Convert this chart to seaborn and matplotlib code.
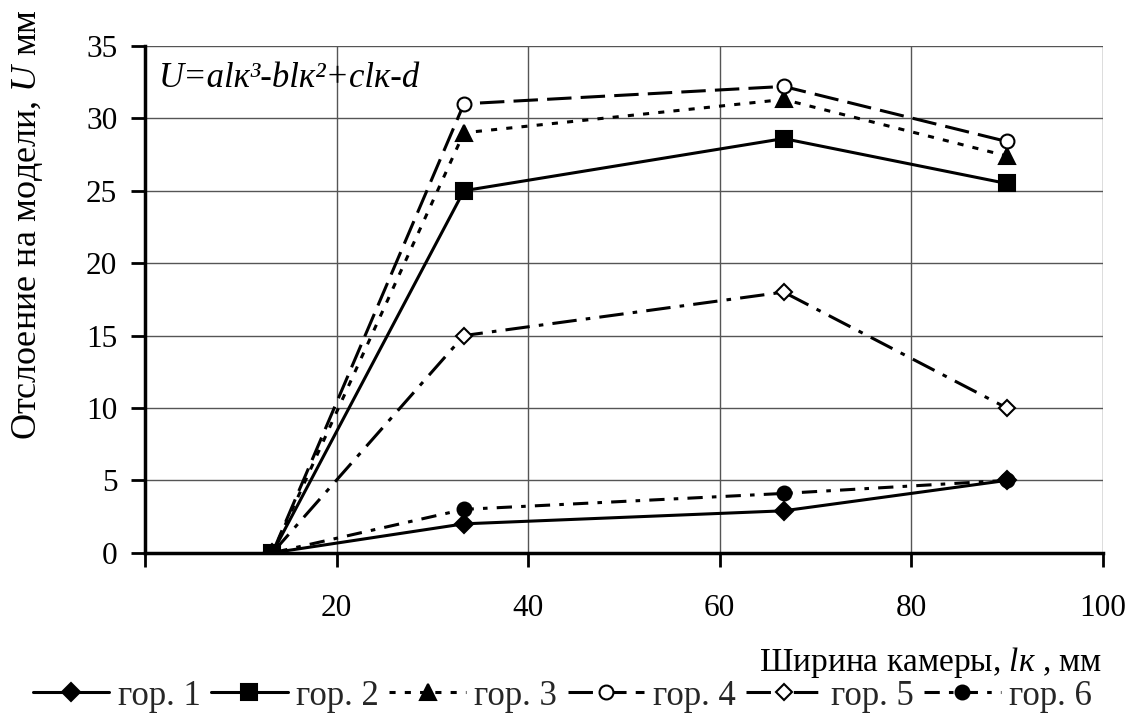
import numpy as np
import pandas as pd
import matplotlib
matplotlib.use("Agg")
import matplotlib.pyplot as plt
import seaborn as sns

# Data
widths = [13.3, 33.3, 66.7, 90]
series_names = ["гор. 1", "гор. 2", "гор. 3", "гор. 4", "гор. 5", "гор. 6"]
gor1 = [0, 2.0, 2.9, 5.0]
gor2 = [0, 25.0, 28.6, 25.5]
gor3 = [0, 29.0, 31.3, 27.4]
gor4 = [0, 31.0, 32.2, 28.4]
gor5 = [0, 15.0, 18.0, 10.0]
gor6 = [0, 3.0, 4.1, 5.0]
x_ticks = [20, 40, 60, 80, 100]
y_ticks = [0, 5, 10, 15, 20, 25, 30, 35]

sns.set_theme(style="white")
plt.rcParams['font.family'] = ['Liberation Serif', 'DejaVu Serif']
plt.rcParams['mathtext.fontset'] = 'custom'
plt.rcParams['mathtext.it'] = 'Liberation Serif:italic'
plt.rcParams['mathtext.rm'] = 'Liberation Serif'

fig = plt.figure(figsize=(11.25, 7.17), dpi=100)
ax = fig.add_axes([0.129, 0.229, 0.851, 0.707])

styles = [
    dict(marker='D', mfc='black', ms=9, dashes=None, lw=2.2),
    dict(marker='s', mfc='black', ms=11, dashes=None, lw=2.2),
    dict(marker='^', mfc='black', ms=11, dashes=[2, 3], lw=2.2),
    dict(marker='o', mfc='white', ms=10, dashes=[8, 3], lw=2.2),
    dict(marker='D', mfc='white', ms=8, dashes=[8, 3, 1.5, 3], lw=2.2),
    dict(marker='o', mfc='black', ms=10, dashes=[5, 3, 1.5, 3], lw=2.2),
]
data = [gor1, gor2, gor3, gor4, gor5, gor6]
handles = []
for name, vals, st in zip(series_names, data, styles):
    df = pd.DataFrame({"x": widths, "y": vals})
    sns.lineplot(data=df, x="x", y="y", ax=ax, color='black', marker=st['marker'],
                 markerfacecolor=st['mfc'], markeredgecolor='black', markeredgewidth=1.5,
                 markersize=st['ms'], linewidth=st['lw'], label=name)
    line = ax.lines[-1]
    if st['dashes'] is not None:
        line.set_dashes(st['dashes'])
    handles.append(line)

ax.set_xlim(0, 100)
ax.set_ylim(0, 35)
ax.set_yticks(y_ticks)
ax.grid(True, color='#555555', linewidth=1.0)
ax.set_xticks([0] + x_ticks)
ax.set_xticklabels([''] + [str(t) for t in x_ticks])
for s in ['top', 'right']:
    ax.spines[s].set_visible(False)
for s in ['left', 'bottom']:
    ax.spines[s].set_color('black')
    ax.spines[s].set_linewidth(2.5)
ax.tick_params(axis='both', direction='out', length=10, width=2, color='black',
               labelsize=22.5, labelcolor='black', bottom=True, left=True)
ax.tick_params(axis='y', pad=10)
ax.tick_params(axis='x', pad=20)

ax.set_ylabel("Отслоение на модели, $U$ мм", fontsize=26, color='black')
ax.yaxis.set_label_coords(-0.105, 1.072)
ax.yaxis.label.set_horizontalalignment('right')
ax.set_xlabel("Ширина камеры, $lк$ , мм", fontsize=24, color='black')
ax.xaxis.set_label_coords(1.0, -0.182)
ax.xaxis.label.set_horizontalalignment('right')

ax.text(0.014, 0.935, "U=alк³-blк²+clк-d", transform=ax.transAxes, fontsize=25,
        style='italic', color='black', va='center', ha='left')

if ax.legend_:
    ax.legend_.remove()
fig.legend(handles=handles, labels=series_names, loc='lower center', ncol=6,
           bbox_to_anchor=(0.5, -0.018), frameon=False, fontsize=25,
           handlelength=2.2, handletextpad=0.25, columnspacing=0.3, borderaxespad=0.1)

fig.savefig("out.png", dpi=100)
